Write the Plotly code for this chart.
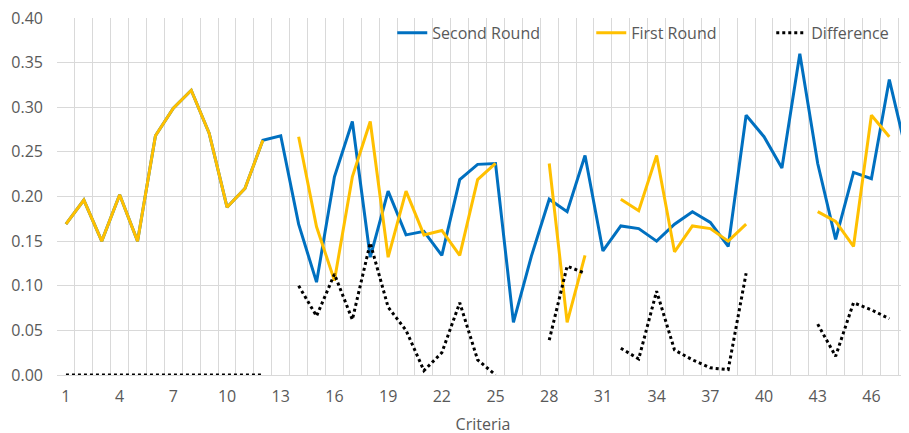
import plotly.graph_objects as go

criteria = list(range(1, 49))

second_round = [
    0.169, 0.196, 0.150, 0.202, 0.150, 0.268, 0.299, 0.319, 0.271, 0.188,
    0.209, 0.263, 0.268, 0.169, 0.104, 0.222, 0.284, 0.132, 0.206, 0.157,
    0.161, 0.134, 0.219, 0.236, 0.237, 0.059, 0.133, 0.197, 0.183, 0.246,
    0.139, 0.167, 0.164, 0.150, 0.169, 0.183, 0.171, 0.144, 0.291, 0.267,
    0.232, 0.360, 0.237, 0.152, 0.227, 0.220, 0.331, 0.246,
]

first_round = [
    0.169, 0.196, 0.150, 0.202, 0.150, 0.268, 0.299, 0.319, 0.271, 0.188,
    0.209, 0.263, None, 0.267, 0.166, 0.106, 0.222, 0.284, 0.132, 0.206,
    0.157, 0.162, 0.134, 0.219, 0.237, None, None, 0.237, 0.059, 0.134,
    None, 0.197, 0.184, 0.246, 0.138, 0.167, 0.164, 0.150, 0.169, None,
    None, None, 0.183, 0.172, 0.144, 0.291, 0.267, None,
]

difference = [
    0.0, 0.0, 0.0, 0.0, 0.0, 0.0, 0.0, 0.0, 0.0, 0.0,
    0.0, 0.0, None, 0.100, 0.066, 0.113, 0.062, 0.148, 0.076, 0.050,
    0.005, 0.025, 0.081, 0.017, 0.000, None, None, 0.039, 0.122, 0.114,
    None, 0.030, 0.018, 0.094, 0.028, 0.017, 0.008, 0.006, 0.114, None,
    None, None, 0.057, 0.021, 0.081, 0.073, 0.063, None,
]

x_ticks = list(range(1, 48, 3))

GRID = "#d9d9d9"
TEXT = "#595959"
FONT = "Open Sans, DejaVu Sans, sans-serif"

fig = go.Figure()
fig.add_trace(go.Scatter(
    x=criteria, y=second_round, name="Second Round", mode="lines",
    line=dict(color="#0070c0", width=3), legendwidth=154,
))
fig.add_trace(go.Scatter(
    x=criteria, y=first_round, name="First Round", mode="lines",
    line=dict(color="#ffc000", width=3), legendwidth=135,
))
fig.add_trace(go.Scatter(
    x=criteria, y=difference, name="Difference", mode="lines",
    line=dict(color="#000000", width=3, dash="dot"),
))

# page body has an 8px margin, so the figure is offset by 8px on both axes
fig.update_layout(
    width=909,
    height=433,
    margin=dict(l=49, r=8, t=10, b=66),
    paper_bgcolor="white",
    plot_bgcolor="white",
    font=dict(family=FONT, size=16, color=TEXT),
    legend=dict(
        orientation="h",
        x=0.3935, xanchor="left",
        y=1.006, yanchor="top",
        bgcolor="rgba(0,0,0,0)",
        font=dict(size=16, color=TEXT),
    ),
    xaxis=dict(
        range=[0.5, 48.1],
        tickmode="array",
        tickvals=x_ticks,
        showgrid=False,
        showline=True,
        linecolor=GRID,
        linewidth=1,
        ticks="",
        ticklabelstandoff=7,
        ticklabeloverflow="allow",
        zeroline=False,
        automargin=False,
        minor=dict(
            tickvals=[v + 0.5 for v in range(0, 49)],
            showgrid=True,
            gridcolor=GRID,
            gridwidth=1,
        ),
        title=dict(text="Criteria", font=dict(size=16, color=TEXT), standoff=12),
    ),
    yaxis=dict(
        range=[0, 0.40],
        dtick=0.05,
        tickformat=".2f",
        showgrid=True,
        gridcolor=GRID,
        gridwidth=1,
        zeroline=False,
        showline=False,
        ticks="",
        ticklabelstandoff=13,
        ticklabeloverflow="allow",
        automargin=False,
    ),
)

fig.write_html("out.html")
